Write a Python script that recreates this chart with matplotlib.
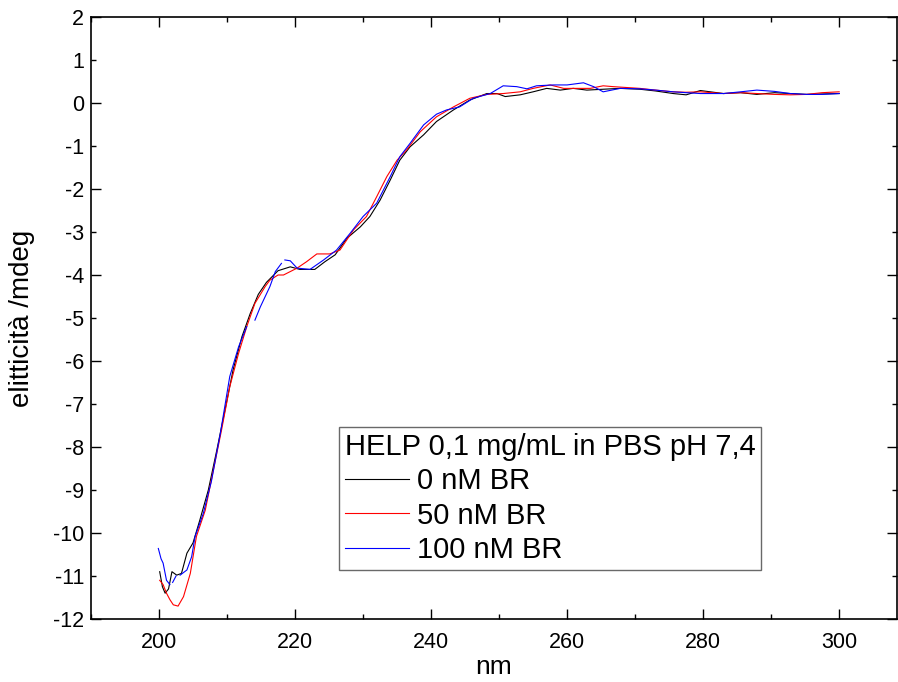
import numpy as np
import matplotlib
matplotlib.use("Agg")
import matplotlib.pyplot as plt
from matplotlib.ticker import MultipleLocator, FuncFormatter

plt.rcParams["font.family"] = ["Liberation Sans", "DejaVu Sans"]
plt.rcParams["axes.unicode_minus"] = False

# CD spectra
nm_0 = [200.1, 200.5, 200.9, 201.4, 201.9, 202.6, 203.3, 204.1, 205.0, 206.0,
        207.25, 208.5, 209.7, 210.9, 212.2, 213.4, 214.6, 215.8, 217.5, 219.3,
        220.7, 222.9, 224.4, 225.9, 227.6, 229.6, 231.0, 232.5, 234.0, 235.4,
        236.9, 238.9, 240.8, 243.3, 245.7, 248.2, 249.7, 250.9, 253.1, 255.0,
        257.0, 259.0, 260.9, 262.9, 265.3, 267.8, 270.7, 273.0, 275.6, 277.5,
        279.6, 283.0, 285.5, 287.9, 290.5, 292.8, 295.2, 297.5, 300.0]
ell_0 = [-10.9, -11.25, -11.4, -11.3, -10.9, -10.98, -10.94, -10.47, -10.23, -9.7,
         -9.0, -8.07, -7.14, -6.2, -5.43, -4.9, -4.45, -4.17, -3.9, -3.81,
         -3.87, -3.87, -3.69, -3.53, -3.15, -2.88, -2.64, -2.26, -1.79, -1.33,
         -1.02, -0.74, -0.43, -0.16, 0.07, 0.22, 0.22, 0.15, 0.19, 0.26,
         0.34, 0.30, 0.34, 0.30, 0.32, 0.34, 0.32, 0.28, 0.22, 0.19,
         0.29, 0.22, 0.24, 0.20, 0.24, 0.22, 0.20, 0.21, 0.22]

nm_50 = [200.1, 200.6, 201.1, 201.6, 202.1, 202.8, 203.6, 204.6, 205.5, 206.8,
         208.0, 209.2, 210.4, 211.7, 212.9, 214.1, 215.6, 216.3, 217.5, 218.3,
         220.3, 221.7, 223.2, 225.1, 226.6, 228.6, 230.5, 232.0, 233.5, 235.0,
         236.4, 238.4, 240.8, 243.3, 245.7, 248.2, 250.6, 253.1, 255.0, 257.5,
         259.5, 261.4, 263.4, 265.3, 266.8, 270.7, 273.0, 275.6, 277.5, 279.6,
         283.0, 285.5, 287.9, 290.5, 292.8, 295.2, 297.5, 300.0]
ell_50 = [-11.1, -11.2, -11.4, -11.55, -11.67, -11.7, -11.48, -10.94, -10.08, -9.47,
          -8.53, -7.6, -6.6, -5.82, -5.2, -4.66, -4.27, -4.12, -4.0, -4.0,
          -3.84, -3.69, -3.51, -3.51, -3.42, -2.95, -2.64, -2.18, -1.71, -1.33,
          -1.09, -0.67, -0.32, -0.09, 0.11, 0.20, 0.22, 0.26, 0.34, 0.42,
          0.34, 0.34, 0.34, 0.40, 0.38, 0.34, 0.30, 0.26, 0.25, 0.26,
          0.22, 0.24, 0.22, 0.20, 0.19, 0.20, 0.24, 0.26]

# blue trace has a few dropouts in the original (nan = gap)
nm_100 = [199.9, 200.3, 200.6, 201.1, 201.6, 201.8, 202.0, 202.5, 202.8, 203.1,
          204.1, 204.8, 205.3, 206.5, 207.7, 209.0, 210.4, 211.7, 212.9, 213.5,
          214.1, 214.9, 216.3, 217.1, 218.0, 218.3, 218.5, 219.3, 220.3, 222.2,
          224.2, 226.1, 228.1, 230.0, 232.0, 234.0, 235.4, 236.9, 238.9, 240.8,
          242.3, 244.2, 246.2, 248.7, 250.6, 252.6, 254.1, 255.5, 258.0, 260.0,
          262.4, 263.9, 265.3, 267.8, 270.7, 273.0, 275.6, 277.5, 279.6, 283.0,
          285.5, 287.9, 290.5, 292.8, 295.2, 297.5, 300.0]
ell_100 = [-10.36, -10.6, -10.7, -11.1, -11.2, np.nan, -11.15, -11.0, np.nan, -10.98,
           -10.86, -10.55, -10.08, -9.55, -8.8, -7.7, -6.36, -5.67, -5.2, np.nan,
           -5.05, -4.74, -4.27, -3.92, -3.73, np.nan, -3.65, -3.67, -3.84, -3.87,
           -3.65, -3.42, -3.03, -2.64, -2.33, -1.71, -1.25, -0.94, -0.51, -0.26,
           -0.16, -0.09, 0.11, 0.22, 0.40, 0.38, 0.33, 0.40, 0.42, 0.42,
           0.47, 0.38, 0.26, 0.34, 0.33, 0.30, 0.26, 0.24, 0.22, 0.22,
           0.26, 0.30, 0.27, 0.22, 0.20, 0.20, 0.22]

labels = ["0 nM BR", "50 nM BR", "100 nM BR"]
colors = ["black", "red", "blue"]
legend_title = "HELP 0,1 mg/mL in PBS pH 7,4"

fig = plt.figure(figsize=(8.98, 6.82), dpi=100)
ax = fig.add_axes([91 / 898, 1 - 619 / 682, 806 / 898, 602 / 682])

for x, y, lab, c in zip([nm_0, nm_50, nm_100], [ell_0, ell_50, ell_100], labels, colors):
    ax.plot(x, y, color=c, lw=0.8, label=lab)

ax.set_xlim(190, 308.5)
ax.set_ylim(-12, 2)

ax.xaxis.set_major_locator(MultipleLocator(20))
ax.xaxis.set_minor_locator(MultipleLocator(10))
ax.yaxis.set_major_locator(MultipleLocator(2))
ax.yaxis.set_minor_locator(MultipleLocator(1))
int_fmt = FuncFormatter(lambda v, pos: f"{int(round(v))}")
ax.xaxis.set_major_formatter(int_fmt)
ax.yaxis.set_major_formatter(int_fmt)
ax.yaxis.set_minor_formatter(int_fmt)

ax.tick_params(which="both", direction="in", top=True, right=True, width=1.0)
ax.tick_params(which="major", length=7.5)
ax.tick_params(which="minor", length=3.8)
ax.tick_params(axis="y", which="both", labelsize=15.5, pad=5)
ax.tick_params(axis="x", which="both", labelsize=15.5, pad=9)
for s in ax.spines.values():
    s.set_linewidth(1.2)

ax.set_xlabel("nm", fontsize=19, va="center")
ax.set_ylabel("elitticità /mdeg", fontsize=20, va="center")
ax.xaxis.set_label_coords(0.5, -0.08)
ax.yaxis.set_label_coords(-0.085, 0.5)

leg = ax.legend(title=legend_title, loc="upper left",
                bbox_to_anchor=(339 / 898, 1 - 427 / 682),
                bbox_transform=fig.transFigure,
                fontsize=21, title_fontsize=21, alignment="left",
                frameon=True, fancybox=False, borderaxespad=0,
                handlelength=2.2, handletextpad=0.28, labelspacing=0.22,
                borderpad=0.2)
leg.get_frame().set_edgecolor("#444444")
leg.get_frame().set_linewidth(1.0)

fig.savefig("out.png", dpi=100)
